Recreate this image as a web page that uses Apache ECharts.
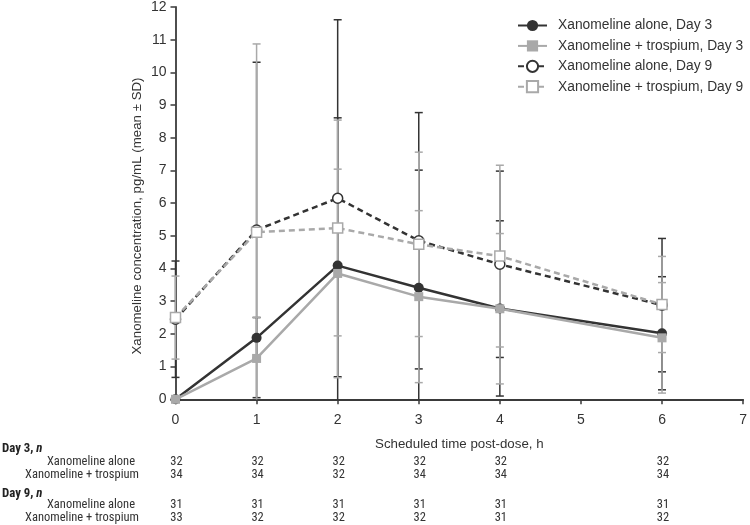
<!DOCTYPE html>
<html><head><meta charset="utf-8">
<script src="https://cdn.jsdelivr.net/npm/echarts@6/dist/echarts.min.js"></script>
<style>html,body{margin:0;padding:0;background:#fff}#c{width:750px;height:525px}</style>
</head><body><div id="c"></div>
<script>
const times = [0, 1, 2, 3, 4, 6];
const alone3 = [0, 1.88, 4.09, 3.41, 2.78, 2.02];
const alone3SD = [0, 0.62, 4.52, 3.60, 2.68, 1.73];
const tros3 = [0, 1.25, 3.85, 3.14, 2.77, 1.88];
const tros3SD = [0, 1.26, 3.19, 2.63, 2.30, 1.69];
const alone9 = [2.45, 5.18, 6.15, 4.85, 4.13, 2.88];
const alone9SD = [1.78, 5.13, 5.46, 3.92, 2.85, 2.04];
const tros9 = [2.50, 5.11, 5.24, 4.74, 4.38, 2.90];
const tros9SD = [1.27, 5.76, 3.30, 2.82, 2.78, 1.47];
const xTicks = [0, 1, 2, 3, 4, 5, 6, 7];
const yTicks = [0, 1, 2, 3, 4, 5, 6, 7, 8, 9, 10, 11, 12];
const nDay3Alone = [32, 32, 32, 32, 32, 32];
const nDay3Tros = [34, 34, 32, 34, 34, 34];
const nDay9Alone = [31, 31, 31, 31, 31, 31];
const nDay9Tros = [33, 32, 32, 32, 31, 32];
const seriesNames = ['Xanomeline alone, Day 3', 'Xanomeline + trospium, Day 3', 'Xanomeline alone, Day 9', 'Xanomeline + trospium, Day 9'];

const DARK = '#333333', GREY = '#a9a9a9';
const FONT = 'Liberation Sans, Arial, sans-serif';
const NARROW = 'Roboto Condensed, Liberation Sans, sans-serif';

function pairs(v) { return times.map((t, i) => [t, v[i]]); }
function errData(v, sd) { return times.map((t, i) => [t, v[i], sd[i]]); }
function errSeries(v, sd, color) {
  return {
    type: 'custom', silent: true, z: 1,
    data: errData(v, sd),
    encode: { x: 0, y: 1 },
    renderItem: function (params, api) {
      const x = api.value(0), m = api.value(1), s = api.value(2);
      if (!s) return null;
      const hiV = m + s, loV = Math.max(0, m - s);
      const hi = api.coord([x, hiV]), lo = api.coord([x, loV]);
      const w = 4;
      const st = { stroke: color, lineWidth: 1.5 };
      const ch = [{ type: 'line', shape: { x1: hi[0], y1: hi[1], x2: lo[0], y2: lo[1] }, style: st }];
      ch.push({ type: 'line', shape: { x1: hi[0] - w, y1: hi[1], x2: hi[0] + w, y2: hi[1] }, style: st });
      if (m - s > 0) ch.push({ type: 'line', shape: { x1: lo[0] - w, y1: lo[1], x2: lo[0] + w, y2: lo[1] }, style: st });
      return { type: 'group', children: ch };
    }
  };
}

const chart = echarts.init(document.getElementById('c'), null, { renderer: 'canvas' });
const option = {
  animation: false,
  grid: { left: 175.5, right: 5, top: 7, bottom: 125.7 },
  legend: {
    left: 517, top: 18.5, padding: 0, orient: 'vertical', itemWidth: 29, itemHeight: 14, itemGap: 6.4,
    textStyle: { fontFamily: FONT, fontSize: 13.8, color: '#333', padding: [0, 0, 0, 6] },
    data: seriesNames
  },
  xAxis: {
    type: 'value', min: 0, max: 7, interval: 1,
    name: 'Scheduled time post-dose, h', nameLocation: 'middle', nameGap: 39,
    nameTextStyle: { fontFamily: FONT, fontSize: 13.3, color: '#333' },
    axisLine: { lineStyle: { color: '#3a3a3a', width: 1.8 } },
    axisTick: { length: 5, lineStyle: { color: '#3a3a3a', width: 1.5 } },
    axisLabel: { fontFamily: FONT, fontSize: 14, color: '#333', margin: 14, formatter: v => xTicks.includes(v) ? String(v) : '' },
    splitLine: { show: false }
  },
  yAxis: {
    type: 'value', min: 0, max: 12, interval: 1,
    axisLine: { show: true, lineStyle: { color: '#3a3a3a', width: 1.8 } },
    axisTick: { show: true, length: 5, lineStyle: { color: '#3a3a3a', width: 1.5 } },
    axisLabel: { fontFamily: FONT, fontSize: 14, color: '#333', margin: 9, formatter: v => yTicks.includes(v) ? String(v) : '' },
    splitLine: { show: false }
  },
  series: [
    errSeries(alone3, alone3SD, DARK),
    errSeries(alone9, alone9SD, DARK),
    errSeries(tros3, tros3SD, GREY),
    errSeries(tros9, tros9SD, GREY),
    { name: seriesNames[0], type: 'line', data: pairs(alone3), z: 3,
      symbol: 'circle', symbolSize: 10, lineStyle: { color: DARK, width: 2.5 },
      itemStyle: { color: DARK, borderColor: DARK, borderWidth: 0 } },
    { name: seriesNames[1], type: 'line', data: pairs(tros3), z: 4,
      symbol: 'rect', symbolSize: 9, lineStyle: { color: GREY, width: 2.5 },
      itemStyle: { color: GREY, borderColor: GREY, borderWidth: 0 } },
    { name: seriesNames[2], type: 'line', data: pairs(alone9), z: 5,
      symbol: 'circle', symbolSize: 10, lineStyle: { color: DARK, width: 2.5, type: [6, 4] },
      itemStyle: { color: '#fff', borderColor: DARK, borderWidth: 1.5 } },
    { name: seriesNames[3], type: 'line', data: pairs(tros9), z: 6,
      symbol: 'rect', symbolSize: 10, lineStyle: { color: GREY, width: 2.5, type: [6, 4] },
      itemStyle: { color: '#fff', borderColor: GREY, borderWidth: 1.5 } }
  ]
};
chart.setOption(option);

// y-axis title and n table
const g = [];
g.push({ type: 'text', x: 137, y: 216, rotation: Math.PI / 2,
  style: { text: 'Xanomeline concentration, pg/mL (mean ± SD)', fontFamily: FONT, fontSize: 13.3, fill: '#333', align: 'center', verticalAlign: 'middle' } });
function header(label, y) {
  g.push({ type: 'text', x: 2, y: y, style: {
    text: '{b|' + label + ', }{i|n}', verticalAlign: 'middle', align: 'left',
    rich: { b: { fontFamily: NARROW, fontWeight: 'bold', fontSize: 12.8, fill: '#222' },
            i: { fontFamily: NARROW, fontWeight: 'bold', fontStyle: 'italic', fontSize: 12.8, fill: '#222' } } } });
}
function row(label, right, y, vals) {
  g.push({ type: 'text', x: right, y: y, style: { text: label, fontFamily: NARROW, fontSize: 12.5, fill: '#333', align: 'right', verticalAlign: 'middle' } });
  times.forEach((t, i) => {
    const px = chart.convertToPixel({ xAxisIndex: 0 }, t);
    g.push({ type: 'text', x: px + 1, y: y, style: { text: String(vals[i]), fontFamily: NARROW, fontSize: 12.5, fill: '#333', align: 'center', verticalAlign: 'middle' } });
  });
}
header('Day 3', 449);
row('Xanomeline alone', 135, 462, nDay3Alone);
row('Xanomeline + trospium', 139, 475, nDay3Tros);
header('Day 9', 494);
row('Xanomeline alone', 135, 504.5, nDay9Alone);
row('Xanomeline + trospium', 139, 518, nDay9Tros);
chart.setOption({ graphic: g });
</script></body></html>
